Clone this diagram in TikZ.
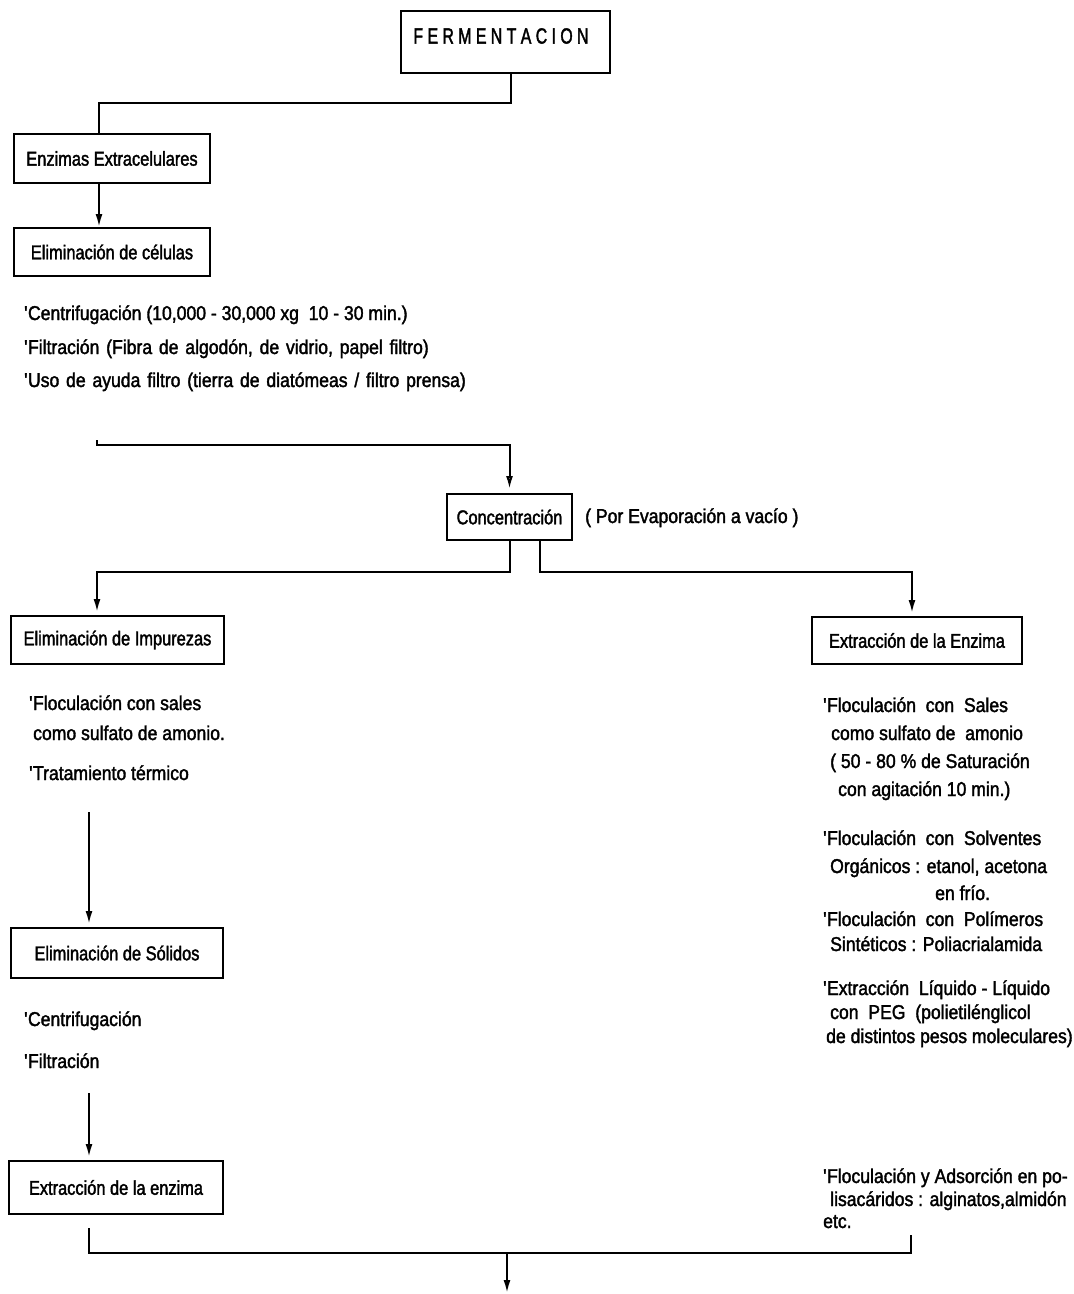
\documentclass[tikz,border=0pt]{standalone}
\usepackage{fontspec}
\setmainfont[FakeStretch=0.88,FakeBold=1.8]{Liberation Sans}
\newfontfamily\boxfont[FakeStretch=0.82,FakeBold=1.8]{Liberation Sans}
\newfontfamily\fermfont[FakeStretch=0.72,FakeBold=1.8]{Liberation Sans}
\usetikzlibrary{arrows.meta,calc}
\newcommand\widespaces{\spaceskip=0.34em\relax}
\begin{document}
\begin{tikzpicture}[x=1pt,y=-1pt,
  every node/.style={font=\fontsize{20}{22}\selectfont, inner sep=0pt},
  box/.style={draw, line width=2pt, anchor=north west, font=\boxfont\fontsize{20}{22}\selectfont},
  conn/.style={line width=2pt},
  arr/.style={conn, -{Latex[length=13pt,width=7pt]}},
  oarr/.style={conn, -{Latex[open,length=13pt,width=7pt]}},
  txt/.style={anchor=base west}]
\useasboundingbox[fill=white] (0,0) rectangle (1074,1294);

% boxes
\node[box, minimum width=209pt, minimum height=62pt] (ferm) at (400,10) {};
\node[font=\fermfont\fontsize{22}{24}\selectfont] (fermtxt) at (501,36) {F E R M E N T A C I O N};
\node[box, minimum width=196pt, minimum height=49pt] (enz) at (13,133) {Enzimas Extracelulares};
\node[box, minimum width=196pt, minimum height=48pt] (cel) at (13,227) {Eliminación de células};
\node[box, minimum width=125pt, minimum height=46pt] (conc) at (446,493) {Concentración};
\node[box, minimum width=213pt, minimum height=48pt] (imp) at (10,615) {Eliminación de Impurezas};
\node[box, minimum width=210pt, minimum height=47pt] (extR) at (811,616) {Extracción de la Enzima};
\node[box, minimum width=212pt, minimum height=50pt] (sol) at (10,927) {Eliminación de Sólidos};
\node[box, minimum width=214pt, minimum height=53pt] (extL) at (8,1160) {Extracción de la enzima};

% texts
\node[txt] (t1) at (24,320) {\textquotesingle Centrifugación (10,000 - 30,000 xg\ \ 10 - 30 min.)};
\node[txt] (t2) at (24,354) {\widespaces\textquotesingle Filtración (Fibra de algodón, de vidrio, papel filtro)};
\node[txt] (t3) at (24,387) {\widespaces\textquotesingle Uso de ayuda filtro (tierra de diatómeas / filtro prensa)};
\node[txt] (t4) at (585,523) {( Por Evaporación a vacío )};

\node[txt] (i1) at (29,710) {\textquotesingle Floculación con sales};
\node[txt] (i2) at (33,740) {como sulfato de amonio.};
\node[txt] (i3) at (29,780) {\textquotesingle Tratamiento térmico};
\node[txt] (s1t) at (24,1026) {\textquotesingle Centrifugación};
\node[txt] (s2t) at (24,1068) {\textquotesingle Filtración};

\node[txt] (r1) at (823,712) {\textquotesingle Floculación\ \ con\ \ Sales};
\node[txt] (r2) at (831,740) {como sulfato de\ \ amonio};
\node[txt] (r3) at (830,768) {( 50 - 80 \% de Saturación};
\node[txt] (r4) at (838,796) {con agitación 10 min.)};
\node[txt] (r5) at (823,845) {\textquotesingle Floculación\ \ con\ \ Solventes};
\node[txt] (r6) at (830,873) {Orgánicos : etanol, acetona};
\node[txt] (r7) at (935,900) {en frío.};
\node[txt] (r8) at (823,926) {\textquotesingle Floculación\ \ con\ \ Polímeros};
\node[txt] (r9) at (830,951) {Sintéticos : Poliacrialamida};
\node[txt] (r10) at (823,995) {\textquotesingle Extracción\ \ Líquido - Líquido};
\node[txt] (r11) at (830,1019) {con\ \ PEG\ \ (polietilénglicol};
\node[txt] (r12) at (826,1043) {de distintos pesos moleculares)};
\node[txt] (r13) at (823,1183) {\textquotesingle Floculación y Adsorción en\ po-};
\node[txt] (r14) at (830,1206) {lisacáridos : alginatos,almidón};
\node[txt] (r15) at (823,1228) {etc.};

% connectors
\coordinate (j1) at (99,103);
\draw[conn] ([xshift=5pt]ferm.south) |- (j1) -- (j1 |- enz.north);
\draw[arr] (j1 |- enz.south) -- (j1 |- cel.north);
\coordinate (j2) at (97,440);
\coordinate (j3) at (97,445);
\draw[oarr, shorten >=4pt] (j2) -- (j3) -| (conc.north);
\coordinate (cL) at (97,572);
\coordinate (cR) at (912,572);
\draw[arr, shorten >=3pt] (conc.south) |- (cL) -- (cL |- imp.north);
\draw[arr, shorten >=3pt] ([xshift=30pt]conc.south) |- (cR) -- (cR |- extR.north);
\coordinate (v1) at (89,812);
\draw[arr, shorten >=3pt] (v1) -- (v1 |- sol.north);
\coordinate (v2) at (89,1093);
\draw[arr, shorten >=3pt] (v2) -- (v2 |- extL.north);
\coordinate (b1) at (89,1228);
\coordinate (b2) at (911,1235);
\coordinate (b3) at (507,1253);
\coordinate (b4) at (507,1293);
\draw[conn] (b1) |- (b2 |- b3) -- (b2);
\draw[arr] (b3) -- (b4);
\end{tikzpicture}
\end{document}
